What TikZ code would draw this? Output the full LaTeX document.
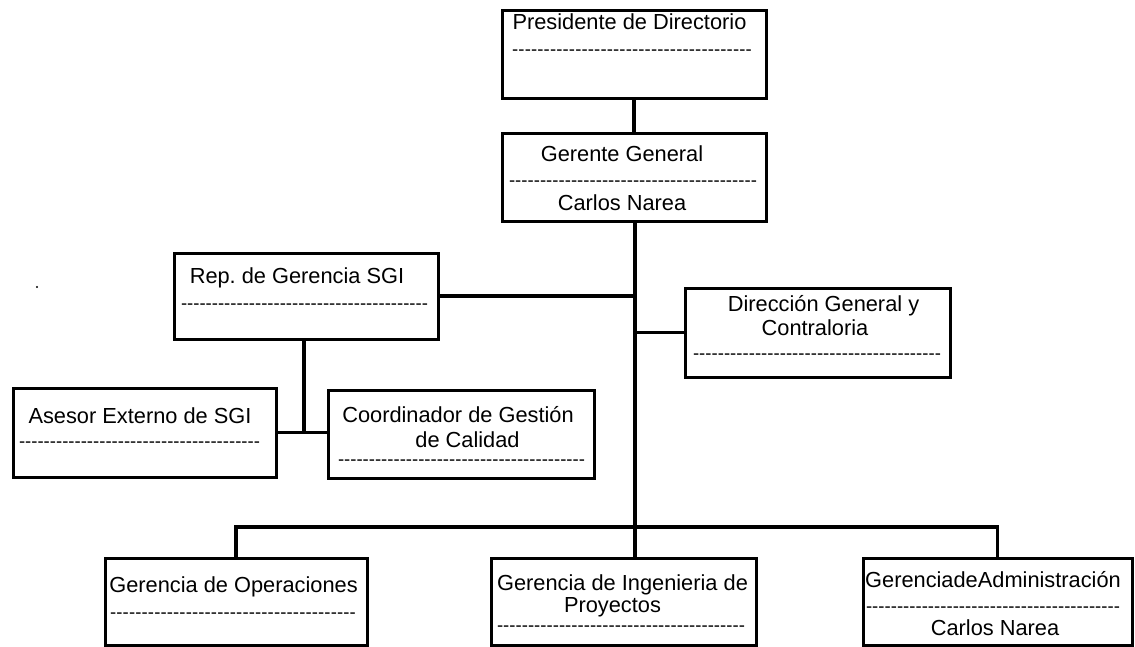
\documentclass[tikz,border=0pt]{standalone}
\usepackage{fontspec}
\setmainfont{Liberation Sans}
\usetikzlibrary{positioning,calc}
\frenchspacing
\newcommand\dashrow[1]{\hbox to #1pt{\xleaders\hbox{-}\hfill}}

\begin{document}
\begin{tikzpicture}[x=1pt,y=-1pt]
\useasboundingbox (0,0) rectangle (1135,647);
\tikzstyle{block} = [draw, shape=rectangle, line width=3pt, inner sep=0pt]
\tikzstyle{txt} = [inner sep=0pt, anchor=base, font=\fontsize{21.8}{26}\selectfont]
\tikzstyle{dashes} = [inner sep=0pt, anchor=base, font=\fontsize{18.5}{20}\selectfont]
%Creating Blocks
\node at (634,55) [block, minimum width=264, minimum height=88] (pres) {};
\node at (634,178) [block, minimum width=264, minimum height=88] (ger) {};
\node at (306,296) [block, minimum width=264, minimum height=86] (rep) {};
\node at (144.5,432.5) [block, minimum width=263, minimum height=89] (ases) {};
\node at (461,434) [block, minimum width=266, minimum height=88] (coord) {};
\node at (817.5,332.5) [block, minimum width=265, minimum height=89] (dir) {};
\node at (236,601.5) [block, minimum width=262, minimum height=87] (oper) {};
\node at (623.5,601.5) [block, minimum width=265, minimum height=87] (ing) {};
\node at (997.5,601.5) [block, minimum width=269, minimum height=87] (adm) {};
%Texts inside the blocks
\node at (629.5,30) [txt] (pres-t) {Presidente de Directorio};
\node at (632,56) [dashes] (pres-d) {\dashrow{240}};
\node at (622,162) [txt] (ger-t) {Gerente General};
\node at (633,187) [dashes] (ger-d) {\dashrow{248}};
\node at (622,211) [txt] (ger-n) {Carlos Narea};
\node at (297,283) [txt] (rep-t) {Rep. de Gerencia SGI};
\node at (304.5,309) [dashes] (rep-d) {\dashrow{247}};
\node at (140,423) [txt] (ases-t) {Asesor Externo de SGI};
\node at (139.5,447) [dashes] (ases-d) {\dashrow{241}};
\node at (458,422) [txt] (coord-t) {Coordinador de Gestión};
\node at (467.5,447) [txt] (coord-u) {de Calidad};
\node at (461.5,465) [dashes] (coord-d) {\dashrow{247}};
\node at (823.5,311) [txt] (dir-t) {Dirección General y};
\node at (815,335) [txt] (dir-u) {Contraloria};
\node at (817,359) [dashes] (dir-d) {\dashrow{248}};
\node at (233.5,592) [txt] (oper-t) {Gerencia de Operaciones};
\node at (233,618) [dashes] (oper-d) {\dashrow{246}};
\node at (622.5,590) [txt] (ing-t) {Gerencia de Ingenieria de};
\node at (612.5,612) [txt] (ing-u) {Proyectos};
\node at (621,631) [dashes] (ing-d) {\dashrow{248}};
\node at (993,587) [txt] (adm-t) {GerenciadeAdministración};
\node at (993,612) [dashes] (adm-d) {\dashrow{254}};
\node at (995,635) [txt] (adm-n) {Carlos Narea};
%Connection nodes
\coordinate (bus) at (635,527);
\coordinate (junc) at (304,432);
\fill (37,287) circle (1.2);
\begin{scope}[line width = 3.8pt]
\draw (pres) -- (ger);
\draw (ger.south -| bus) -- (bus);
\draw (bus) -- (ing.north -| bus);
\draw (oper.north) |- (bus) -| (adm.north);
\draw (rep.east) -- (rep.east -| bus);
\draw (dir.west -| bus) -- (dir.west);
\draw (rep.south -| junc) -- (junc);
\draw (ases.east) -- (ases.east -| coord.west);
\end{scope}

\end{tikzpicture}
\end{document}
